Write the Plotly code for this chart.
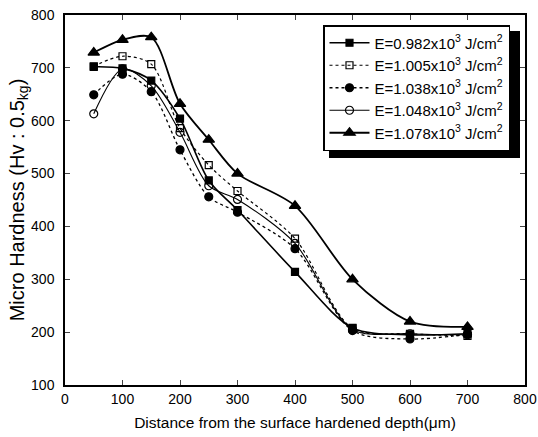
import plotly.graph_objects as go

depth = [50, 100, 150, 200, 250, 300, 400, 500, 600, 700]
e0982 = [702, 699, 676, 604, 487, 431, 314, 208, 195, 197]
e1005 = [703, 722, 707, 586, 516, 467, 377, 207, 197, 193]
e1038 = [649, 688, 655, 545, 456, 427, 358, 203, 187, 196]
e1048 = [613, 698, 666, 578, 477, 451, 368, 205, 197, 195]
e1078 = [729, 753, 758, 632, 564, 500, 439, 300, 220, 210]

names = [
    "E=0.982x10<sup>3</sup> J/cm<sup>2</sup>",
    "E=1.005x10<sup>3</sup> J/cm<sup>2</sup>",
    "E=1.038x10<sup>3</sup> J/cm<sup>2</sup>",
    "E=1.048x10<sup>3</sup> J/cm<sup>2</sup>",
    "E=1.078x10<sup>3</sup> J/cm<sup>2</sup>",
]
series = [e0982, e1005, e1038, e1048, e1078]
styles = [
    dict(dash="solid", width=1.6, symbol="square", msize=7),
    dict(dash="dot", width=1.2, symbol="square-open", msize=7),
    dict(dash="dot", width=1.3, symbol="circle", msize=8),
    dict(dash="solid", width=1.1, symbol="circle-open", msize=8),
    dict(dash="solid", width=1.8, symbol="triangle-up", msize=10),
]

fig = go.Figure()
for name, ys, st in zip(names, series, styles):
    fig.add_trace(go.Scatter(
        x=depth, y=ys, name=name, mode="lines+markers",
        line=dict(color="black", width=st["width"], dash=st["dash"], shape="spline", smoothing=0.85),
        marker=dict(symbol=st["symbol"], size=st["msize"], color="black",
                    line=dict(color="black", width=1.2)),
    ))

FAM = "Arial, Liberation Sans, sans-serif"
tickf = dict(family=FAM, size=14, color="black")

W, H = 538, 437
PL, PR, PT, PB = 65, 525, 15, 385   # plot area in page pixels
L, R, T, B = PL, W - PR, PT, H - PB
pw, ph = PR - PL, PB - PT

def px2paper(x, y):
    return (x - PL) / pw, (PB - y) / ph

sx0, sy_top = px2paper(329, 31)
sx1, sy_bot = px2paper(520, 158)
fig.add_shape(type="rect", xref="paper", yref="paper", x0=sx0, y0=sy_bot, x1=sx1, y1=sy_top,
              fillcolor="black", line=dict(width=0), layer="above")

lx, ly = px2paper(323, 25)
fig.update_layout(
    width=W, height=H,
    margin=dict(l=L, r=R, t=T, b=B, autoexpand=False),
    paper_bgcolor="white", plot_bgcolor="white",
    font=dict(family=FAM, size=14, color="black"),
    showlegend=True,
    legend=dict(x=lx, y=ly, xanchor="left", yanchor="top",
                bgcolor="white", bordercolor="black", borderwidth=1.5,
                font=dict(family=FAM, size=15, color="black"),
                itemwidth=40, tracegroupgap=0),
    xaxis=dict(range=[0, 800], dtick=100, tick0=0, ticks="inside", ticklen=5,
               showline=True, linecolor="black", linewidth=1.5, mirror="ticks",
               showgrid=False, zeroline=False, tickfont=tickf, automargin=False,
               title=dict(text="Distance from the surface hardened depth(μm)",
                          font=dict(family=FAM, size=15.5, color="black"), standoff=12)),
    yaxis=dict(range=[100, 800], dtick=100, tick0=100, ticks="inside", ticklen=5,
               showline=True, linecolor="black", linewidth=1.5, mirror="ticks",
               showgrid=False, zeroline=False, tickfont=tickf, automargin=False,
               ticklabelstandoff=6,
               title=dict(text="Micro Hardness (Hv : 0.5<sub>kg</sub>)",
                          font=dict(family=FAM, size=20, color="black"), standoff=0)),
)

fig.write_html("out.html",
               config={"displayModeBar": False},
               post_script="document.body.style.margin='0';document.body.style.overflow='hidden';")
